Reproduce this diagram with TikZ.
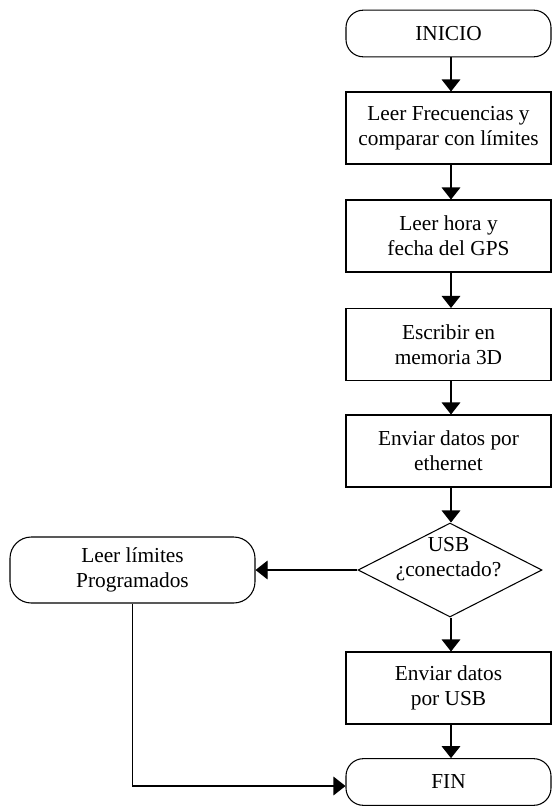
\documentclass[tikz,border=0pt]{standalone}
\usepackage{fontspec}
\setmainfont{Liberation Serif}
\usetikzlibrary{arrows.meta,shapes.geometric}
\begin{document}
\begin{tikzpicture}[x=0.75pt,y=-0.75pt,
  every node/.style={font=\fontsize{16}{18.75}\selectfont, align=center, inner sep=0pt},
  procbox/.style={draw, line width=0.8pt, minimum width=153.75pt, minimum height=54pt},
  termbox/.style={draw, line width=0.8pt, rounded corners=13pt, minimum width=153.75pt, minimum height=35pt},
  decbox/.style={draw, diamond, line width=0.8pt, minimum width=138pt, minimum height=70.5pt, inner sep=0pt},
  arr/.style={draw, line width=0.8pt, -{Triangle[width=14pt,length=9pt]}},
  link/.style={draw, line width=0.8pt}]
\useasboundingbox (0,0) rectangle (553,807);
\coordinate (ax) at (451,0);
\node[termbox] (ini) at (448.5,33.5) {INICIO};
\node[procbox] (b1) at (448.5,128) {Leer Frecuencias y\\comparar con límites};
\node[procbox] (b2) at (448.5,236) {Leer hora y\\fecha del GPS};
\node[procbox] (b3) at (448.5,344.5) {Escribir en\\memoria 3D};
\node[procbox] (b4) at (448.5,451) {Enviar datos por\\ethernet};
\node[decbox] (usb) at (450,570) {};
\node (usbt) at (448.5,559) {USB\\¿conectado?};
\node[termbox, minimum width=183.75pt, minimum height=49.5pt, rounded corners=16pt] (lim) at (132.5,570) {Leer límites\\Programados};
\node[procbox] (b5) at (448.5,688) {Enviar datos\\por USB};
\node[termbox] (fin) at (448.5,782) {FIN};
\draw[arr] (ini.south -| ax) -- (b1.north -| ax);
\draw[arr] (b1.south -| ax) -- (b2.north -| ax);
\draw[arr] (b2.south -| ax) -- (b3.north -| ax);
\draw[arr] (b3.south -| ax) -- (b4.north -| ax);
\draw[arr] (b4.south -| ax) -- (usb.north -| ax);
\draw[arr] (usb.south -| ax) -- (b5.north -| ax);
\draw[arr] (b5.south -| ax) -- (fin.north -| ax);
\draw[arr] (usb.west) -- (lim.east);
\draw[arr] (lim.south) |- ([yshift=-3pt]fin.west);
\end{tikzpicture}
\end{document}
